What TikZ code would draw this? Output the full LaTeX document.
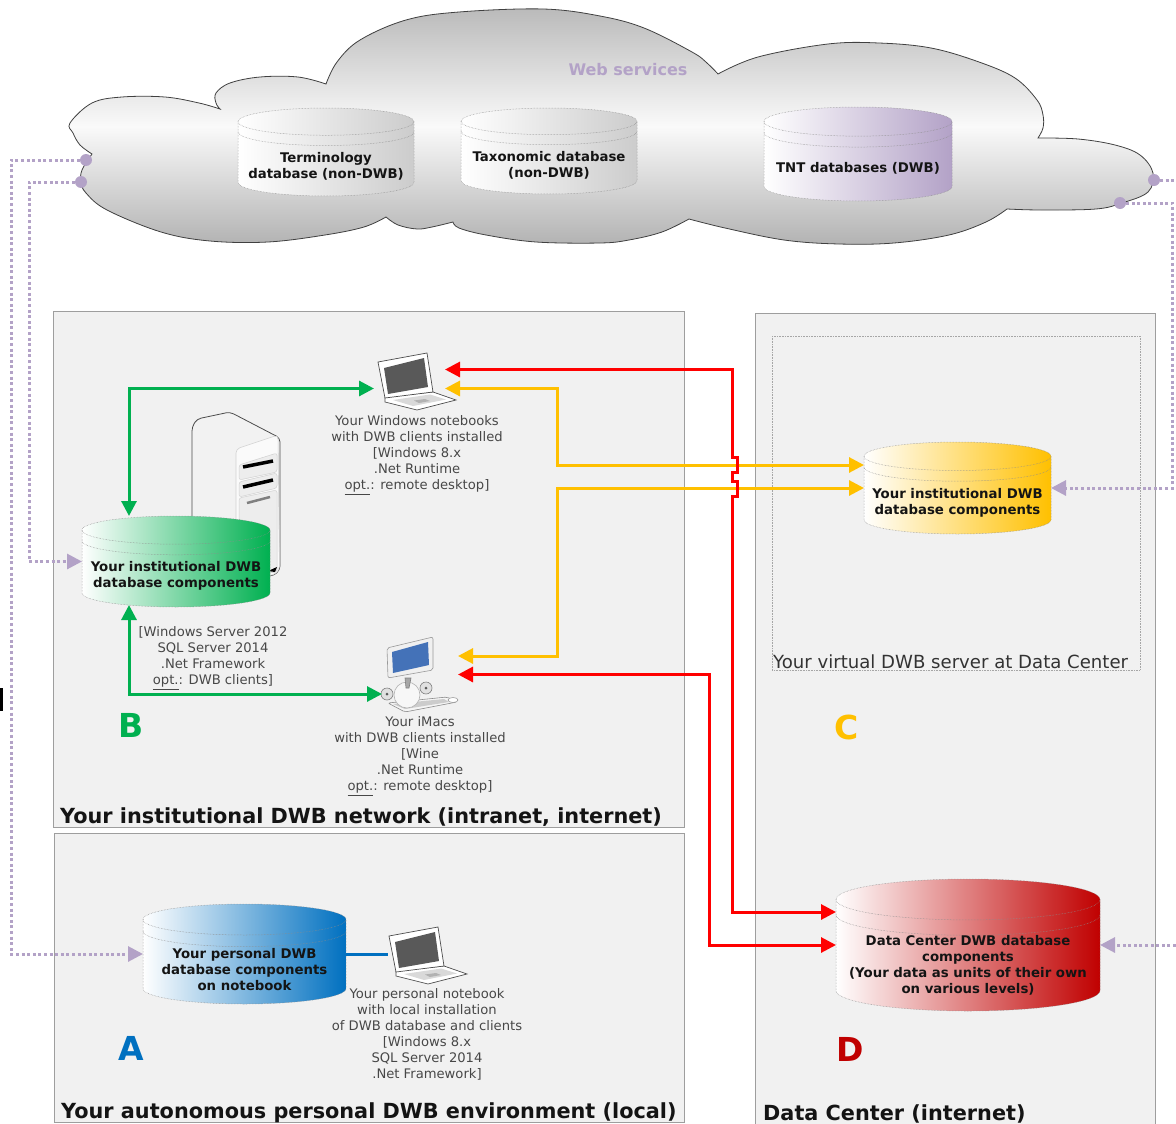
\documentclass[tikz,border=0pt]{standalone}
\usepackage{fontspec}
\setmainfont{DejaVu Sans}
\usetikzlibrary{arrows.meta}

\definecolor{dwbgreen}{HTML}{00B050}
\definecolor{dwbyellow}{HTML}{FFC000}
\definecolor{dwbred}{HTML}{FF0000}
\definecolor{dwbdarkred}{HTML}{C00000}
\definecolor{dwbblue}{HTML}{0070C0}
\definecolor{dwbpurple}{HTML}{B3A2C7}
\definecolor{panelgrey}{HTML}{F1F1F1}
\definecolor{imacblue}{HTML}{4472B8}

\tikzset{
    panel/.style={draw=black!38, fill=panelgrey, line width=.9pt},
    dbshape/.style={inner sep=0pt, outer sep=0pt},
    dbrim/.style={draw=black!45, line width=.5pt, densely dotted},
    dbtext/.style={inner sep=0pt, align=center, text=black!92, font=\fontsize{13.3}{16}\selectfont\bfseries},
    clienttext/.style={inner sep=0pt, align=center, text=black!72, font=\fontsize{13.15}{16}\selectfont},
    paneltitle/.style={inner sep=0pt, anchor=west, text=black!92, font=\fontsize{20.8}{24}\selectfont\bfseries},
    tagletter/.style={inner sep=0pt, font=\fontsize{33}{36}\selectfont\bfseries},
    device/.style={inner sep=0pt, outer sep=0pt},
    portdot/.style={circle, fill=dwbpurple, inner sep=0pt, minimum size=12pt, outer sep=0pt},
    link/.style={line width=3pt, >={Triangle[length=15pt,width=15pt]}},
    weblink/.style={line width=3pt, draw=dwbpurple, dash pattern=on 3pt off 2.6pt,
        -{Triangle[length=15pt,width=15pt,fill=dwbpurple,sep=0pt]}},
}

\begin{document}
\begin{tikzpicture}[x=1pt,y=-1pt]
    % name, left, right, top, bottom, colour, text y, text
    \newcommand\database[8]{
        \pgfmathsetmacro\dbry{.155*(#5-#4)}
        \pgfmathsetmacro\dbupper{#4+\dbry}
        \pgfmathsetmacro\dblower{#5-\dbry}
        \pgfmathsetmacro\dbband{\dbupper+.75*\dbry}
        \pgfmathsetmacro\dbrx{(#3-#2)/2}
        \draw[dbrim, left color=white, right color=#6] (#2,\dbupper) -- (#2,\dblower)
            arc[start angle=180, end angle=0, x radius=\dbrx, y radius=\dbry]
            -- (#3,\dbupper)
            arc[start angle=0, end angle=-180, x radius=\dbrx, y radius=\dbry] -- cycle;
        \draw[dbrim] (#2,\dbupper) arc[start angle=180, end angle=0, x radius=\dbrx, y radius=\dbry];
        \draw[dbrim] (#2,\dbband) arc[start angle=180, end angle=0, x radius=\dbrx, y radius=\dbry];
        \node[dbshape, minimum width=#3pt-#2pt, minimum height=#5pt-#4pt] (#1) at ({(#2+#3)/2},{(#4+#5)/2}) {};
        \node[dbtext] (#1text) at ({(#2+#3)/2},#7) {#8};
    }
    \newcommand\laptop[2]{
        \begin{scope}[shift={(#1,#2)}, line width=.7pt, draw=black!70]
            \draw[fill=white] (7,44) -- (55,39) -- (78,47) -- (39,57) -- (7,49) -- cycle;
            \fill[black!15] (15,47) -- (52,41.5) -- (68,46.5) -- (35,53) -- cycle;
            \fill[black!30] (36,47.5) -- (47,46) -- (52,48) -- (41,50) -- cycle;
            \draw[fill=white] (0,9) -- (49,0) -- (55,39) -- (7,45) -- cycle;
            \fill[black!65] (6,15) -- (46,5) -- (50,34) -- (10,41) -- cycle;
        \end{scope}
    }

    \useasboundingbox (0,0) rectangle (1176,1124);

    % Cut off letter at the left edge
    \fill[black] (0,688) rectangle (3,711);

    % Cloud
    \draw[black!75, line width=.8pt, top color=black!27, bottom color=black!30, middle color=black!2]
        plot[smooth, tension=.6] coordinates {(220,109) (199,103) (165,97) (122,97) (92,103) (70,123) (73,133) (80,145) (92,154)}
        -- plot[smooth, tension=.6] coordinates {(92,154) (82,170) (81,182) (86,193) (107,210) (161,232) (210,241) (268,242) (325,235) (364,227) (386,217)}
        -- plot[smooth, tension=.6] coordinates {(386,217) (398,225) (417,229) (432,227) (453,222)}
        -- plot[smooth, tension=.6] coordinates {(453,222) (459,228) (486,235) (536,242) (600,243) (629,240) (662,232) (689,219)}
        -- plot[smooth, tension=.6] coordinates {(689,219) (725,228) (784,240) (839,244) (894,243) (949,235) (986,222) (1007,209)}
        -- plot[smooth, tension=.6] coordinates {(1007,209) (1041,210) (1096,209) (1122,203) (1148,192) (1153,173) (1140,155) (1115,145) (1078,139) (1038,138)}
        -- plot[smooth, tension=.6] coordinates {(1038,138) (1043,128) (1043,115) (1037,100) (1015,78) (979,62) (931,48) (879,43) (828,44) (758,57) (718,74)}
        -- plot[smooth, tension=.6] coordinates {(718,74) (707,63) (692,52) (644,28) (600,16) (543,9) (459,12) (406,20) (360,40) (337,62) (326,84)}
        -- plot[smooth, tension=.6] coordinates {(326,84) (298,77) (260,77) (230,83) (216,93) (216,103) (220,109)}
        -- cycle;
    \node[inner sep=0pt, text=dwbpurple, font=\fontsize{16}{20}\selectfont\bfseries] (webtitle) at (628,70) {Web services};

    \database{dbterm}{238}{414}{108}{196}{black!20}{166}{Terminology\\database (non-DWB)}
    \database{dbtax}{461}{637}{108}{194}{black!20}{165}{Taxonomic database\\(non-DWB)}
    \database{dbtnt}{764}{952}{107}{201}{dwbpurple}{168}{TNT databases (DWB)}

    \node[portdot] (portA) at (86,160) {};
    \node[portdot] (portB) at (81,182) {};
    \node[portdot] (portD) at (1154,180) {};
    \node[portdot] (portC) at (1120,203) {};

    % Panels
    \draw[panel] (53,311) rectangle (684,827);
    \draw[panel] (54,833) rectangle (684,1122);
    \draw[panel] (755,313) rectangle (1155,1130);
    \draw[black!35, line width=.6pt, densely dotted] (772,336) rectangle (1140,670);

    \node[paneltitle] (titleB) at (60,817) {Your institutional DWB network (intranet, internet)};
    \node[paneltitle] (titleA) at (61,1113) {Your autonomous personal DWB environment (local)};
    \node[paneltitle] (titleD) at (763,1113.5) {Data Center (internet)};
    \node[inner sep=0pt, anchor=west, text=black!80, font=\fontsize{18.1}{20}\selectfont] (titleC) at (773,662) {Your virtual DWB server at Data Center};

    \foreach \tag/\x/\y/\col in {A/131/1048/dwbblue, B/131/725/dwbgreen, C/847/727/dwbyellow, D/850/1049/dwbdarkred} {
        \node[tagletter, text=\col] (tag\tag) at (\x,\y) {\tag};
    }

    % Server tower
    \draw[black!70, line width=.8pt, fill=black!5, rounded corners=4pt]
        (192,560) -- (192,427) -- (197,419) -- (230,412) -- (280,438) -- (280,570) -- (273,576) -- (192,576) -- cycle;
    \draw[black!18, line width=.6pt, fill=black!2, rounded corners=4pt]
        (236,575) -- (236,449) -- (278,435) -- (279.5,570) -- (273,575.5) -- cycle;
    \foreach \a/\b/\c/\d in {465/453/472/480, 482/473/488/497, 498/490/572/576} {
        \draw[black!18, line width=.5pt, fill=black!7, rounded corners=2.5pt]
            (239,\a) -- (277,\b) -- (277,\c) -- (239,\d) -- cycle;
    }
    \draw[black, line width=3.5pt] (243,467) -- (273,461);
    \draw[black, line width=3.5pt] (243,487) -- (273,480);
    \draw[black!50, line width=2.5pt] (247,503) -- (270,497);
    \fill[black] (268,571) -- (277,567) -- (275,572) -- cycle;

    % Databases
    \database{dbB}{82}{270}{516}{607}{dwbgreen}{576}{Your institutional DWB\\database components}
    \database{dbC}{864}{1051}{442}{534}{dwbyellow}{503}{Your institutional DWB\\database components}
    \database{dbD}{836}{1100}{879}{1011}{dwbdarkred}{965}{Data Center DWB database\\components\\(Your data as units of their own\\on various levels)}
    \database{dbA}{143}{346}{904}{1004}{dwbblue}{970}{Your personal DWB\\database components\\on notebook}

    % Clients
    \laptop{378}{353}
    \laptop{389}{927}
    \node[device, minimum width=71pt, minimum height=57pt] (lapW) at (409.5,381.5) {};
    \node[device, minimum width=78pt, minimum height=56pt] (lapA) at (427,954) {};

    % iMac
    \begin{scope}[line width=.6pt]
        \draw[black!45, fill=black!4, rounded corners=2pt] (388,703) -- (447,697) -- (457,702) -- (405,712) -- cycle;
        \fill[black!20] (393,704) -- (444,699) -- (449,702) -- (405,709) -- cycle;
        \draw[black!40, fill=white] (453,700) ellipse (5 and 2.5);
        \draw[black!30, fill=black!3] (407,695) ellipse (13 and 13);
        \draw[black!50, fill=black!35] (405,678) -- (411,678) -- (409,688) -- (406,688) -- cycle;
        \draw[black!50, fill=black!12] (387,694) circle (6);
        \draw[black!50, fill=black!12] (426,688) circle (6);
        \fill[black!65] (387,694) circle (1.5);
        \fill[black!65] (426,688) circle (1.5);
        \draw[black!40, fill=black!6, rounded corners=2pt] (387,648) -- (433,637) -- (433,670) -- (388,678) -- cycle;
        \fill[imacblue] (392,652) -- (428,642) -- (429,665) -- (393,673) -- cycle;
    \end{scope}
    \node[device, minimum width=76pt, minimum height=75pt] (imac) at (420,674.5) {};

    \node[clienttext] (textW) at (417,455) {Your Windows notebooks\\with DWB clients installed\\{}[Windows 8.x\\.Net Runtime\\\underline{opt.}: remote desktop]};
    \node[clienttext] (textS) at (213,658) {[Windows Server 2012\\SQL Server 2014\\.Net Framework\\\underline{opt.}: DWB clients]};
    \node[clienttext] (textM) at (420,756) {Your iMacs\\with DWB clients installed\\{}[Wine\\.Net Runtime\\\underline{opt.}: remote desktop]};
    \node[clienttext] (textA) at (427,1034) {Your personal notebook\\with local installation\\of DWB database and clients\\{}[Windows 8.x\\SQL Server 2014\\.Net Framework]};

    % Web services links
    \coordinate (busA) at (11,500);
    \coordinate (busB) at (29,400);
    \coordinate (busC) at (1172.5,300);
    \coordinate (edgeD) at (1176,180);
    \coordinate (edgeE) at (1176,945);
    \draw[weblink] (portA) -| (busA) |- (dbA.west);
    \draw[weblink] (portB) -| (busB) |- (dbB.west);
    \draw[weblink] (portC) -| (busC) |- (dbC.east);
    \draw[weblink, -] (portD) -- (edgeD);
    \draw[weblink] (edgeE) -- (dbD.east);

    % Local network links
    \draw[link, dwbgreen, <->] ([yshift=-7pt]lapW.west) -| ([xshift=-47pt]dbB.north);
    \draw[link, dwbgreen, <->] ([yshift=-19.5pt]imac.west) -| ([xshift=-47pt,yshift=2pt]dbB.south);
    \draw[link, dwbblue] (dbA.east) -- (lapA.west);

    % Remote desktop links
    \coordinate (busYa) at (557,430);
    \coordinate (busYb) at (557,570);
    \draw[link, dwbyellow, <->] ([yshift=-7pt]lapW.east) -| (busYa) |- ([yshift=23pt]dbC.west);
    \draw[link, dwbyellow, <->] ([yshift=18.5pt]imac.east) -| (busYb) |- (dbC.west);

    % Data Center links
    \coordinate (hopR) at (732,457);
    \coordinate (busR) at (709,800);
    \draw[link, dwbred, <->] ([yshift=12pt]lapW.east) -| (hopR)
        -- ++(5,0) -- ++(0,15) -- ++(-5,0) -- ++(0,9) -- ++(5,0) -- ++(0,15) -- ++(-5,0)
        |- ([yshift=33pt]dbD.west);
    \draw[link, dwbred, <->] (imac.east) -| (busR) |- (dbD.west);
\end{tikzpicture}
\end{document}
